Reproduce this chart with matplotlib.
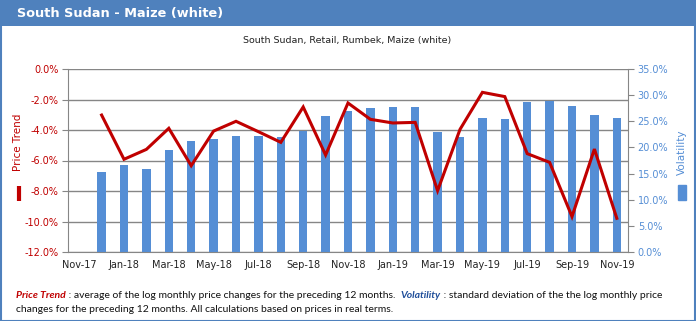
import matplotlib
matplotlib.use("Agg")
import matplotlib.pyplot as plt
from matplotlib.patches import Rectangle
from matplotlib.lines import Line2D
import numpy as np

# ---------------------------------------------------------
# DATA
# ---------------------------------------------------------
months = ["Nov-17", "Dec-17", "Jan-18", "Feb-18", "Mar-18", "Apr-18", "May-18",
          "Jun-18", "Jul-18", "Aug-18", "Sep-18", "Oct-18", "Nov-18", "Dec-18",
          "Jan-19", "Feb-19", "Mar-19", "Apr-19", "May-19", "Jun-19", "Jul-19",
          "Aug-19", "Sep-19", "Oct-19", "Nov-19"]

# price trend in % (left axis), no value for Nov-17
price_trend = [np.nan, -3.02, -5.92, -5.27, -3.89, -6.34, -4.07, -3.43, -4.11,
               -4.81, -2.49, -5.64, -2.23, -3.30, -3.54, -3.50, -7.98, -3.96,
               -1.53, -1.81, -5.55, -6.12, -9.68, -5.25, -9.79]

# volatility in % (right axis), no value for Nov-17
volatility = [np.nan, 15.3, 16.6, 15.9, 19.5, 21.2, 21.6, 22.2, 22.2, 22.0,
              23.1, 26.0, 27.0, 27.5, 27.7, 27.7, 23.0, 22.0, 25.6, 25.4,
              28.7, 28.9, 27.9, 26.2, 25.7]

left_ticks = [0, -2, -4, -6, -8, -10, -12]
right_ticks = [0, 5, 10, 15, 20, 25, 30, 35]

RED = "#C00000"
BLUE = "#558ED5"
FRAME = "#4F81BD"
GRID = "#868686"

# ---------------------------------------------------------
# FIGURE
# ---------------------------------------------------------
fig = plt.figure(figsize=(6.96, 3.21), dpi=100)
W, H = 696.0, 321.0

# title bar + outer frame
fig.add_artist(Rectangle((0, 1 - 26 / H), 1, 26 / H, transform=fig.transFigure,
                         facecolor=FRAME, edgecolor="none"))
fig.add_artist(Rectangle((0.5 / W, 0.5 / H), 1 - 1.5 / W, 1 - 1.5 / H,
                         transform=fig.transFigure, facecolor="none",
                         edgecolor=FRAME, linewidth=1.5))
fig.text(17 / W, 1 - 13 / H, "South Sudan - Maize (white)", color="white",
         fontsize=9.3, fontweight="bold", va="center", ha="left")
fig.text(347 / W, 1 - 40 / H, "South Sudan, Retail, Rumbek, Maize (white)",
         color="#222222", fontsize=6.8, va="center", ha="center")

rect = [68 / W, 1 - 252 / H, 560 / W, 183 / H]
x = np.arange(len(months))

# left axis: grid + ticks
ax1 = fig.add_axes(rect)
ax1.set_ylim(-12, 0)
ax1.set_yticks(left_ticks)
ax1.set_yticklabels([f"{v:.1f}%" for v in left_ticks], color=RED, fontsize=7)
ax1.set_xlim(-0.5, len(months) - 0.5)
ax1.set_xticks(x[::2])
ax1.set_xticklabels(months[::2], fontsize=7, color="#222222")
ax1.tick_params(axis="x", length=0, pad=6)
ax1.tick_params(axis="y", length=4, color=GRID, pad=3)
ax1.grid(axis="y", color=GRID, linewidth=1)
ax1.set_axisbelow(True)
for s in ["top", "right"]:
    ax1.spines[s].set_visible(False)
for s in ["left", "bottom"]:
    ax1.spines[s].set_color(GRID)

# right axis: volatility bars
ax2 = ax1.twinx()
ax2.bar(x, volatility, width=0.38, color=BLUE, zorder=2)
ax2.set_ylim(0, 35)
ax2.set_yticks(right_ticks)
ax2.set_yticklabels([f"{v:.1f}%" for v in right_ticks], color=BLUE, fontsize=7)
ax2.tick_params(axis="y", length=4, color=GRID, pad=3)
for s in ["top", "left", "bottom"]:
    ax2.spines[s].set_visible(False)
ax2.spines["right"].set_color(GRID)

# line on top of the bars, scaled to the left axis
ax3 = ax1.twinx()
ax3.set_ylim(ax1.get_ylim())
ax3.plot(x, price_trend, color=RED, linewidth=2.2, solid_joinstyle="miter")
ax3.axis("off")

# axis labels with their legend keys
fig.text(18 / W, 1 - 142 / H, "Price Trend", rotation=90, color=RED,
         fontsize=7.5, ha="center", va="center")
fig.add_artist(Line2D([19 / W, 19 / W], [1 - 186 / H, 1 - 201 / H],
                      transform=fig.transFigure, color=RED, linewidth=3,
                      solid_capstyle="butt"))
fig.text(682 / W, 1 - 152 / H, "Volatility", rotation=90, color=BLUE,
         fontsize=7.5, ha="center", va="center")
fig.add_artist(Rectangle((678 / W, 1 - 200 / H), 8 / W, 15 / H,
                         transform=fig.transFigure, color=BLUE))

# ---------------------------------------------------------
# FOOTNOTE (coloured pieces placed one after another)
# ---------------------------------------------------------
foot_font = ["Lato", "DejaVu Sans"]
pieces = [
    ("Price Trend", RED, "bold", "italic"),
    (" : average of the log monthly price changes for the preceding 12 months.  ", "#111111", "normal", "normal"),
    ("Volatility", "#1F4E9A", "bold", "italic"),
    (" : standard deviation of the the log monthly price", "#111111", "normal", "normal"),
]
renderer = fig.canvas.get_renderer()
xpos = 16 / W
for txt, col, wt, st in pieces:
    t = fig.text(xpos, 1 - 296 / H, txt, color=col, fontweight=wt, fontstyle=st,
                 fontsize=7.5, family=foot_font, va="center", ha="left")
    bb = t.get_window_extent(renderer=renderer)
    xpos += bb.width / W
fig.text(16 / W, 1 - 310 / H,
         "changes for the preceding 12 months. All calculations based on prices in real terms.",
         color="#111111", fontsize=7.5, family=foot_font, va="center", ha="left")

fig.savefig("out.png", dpi=100)
